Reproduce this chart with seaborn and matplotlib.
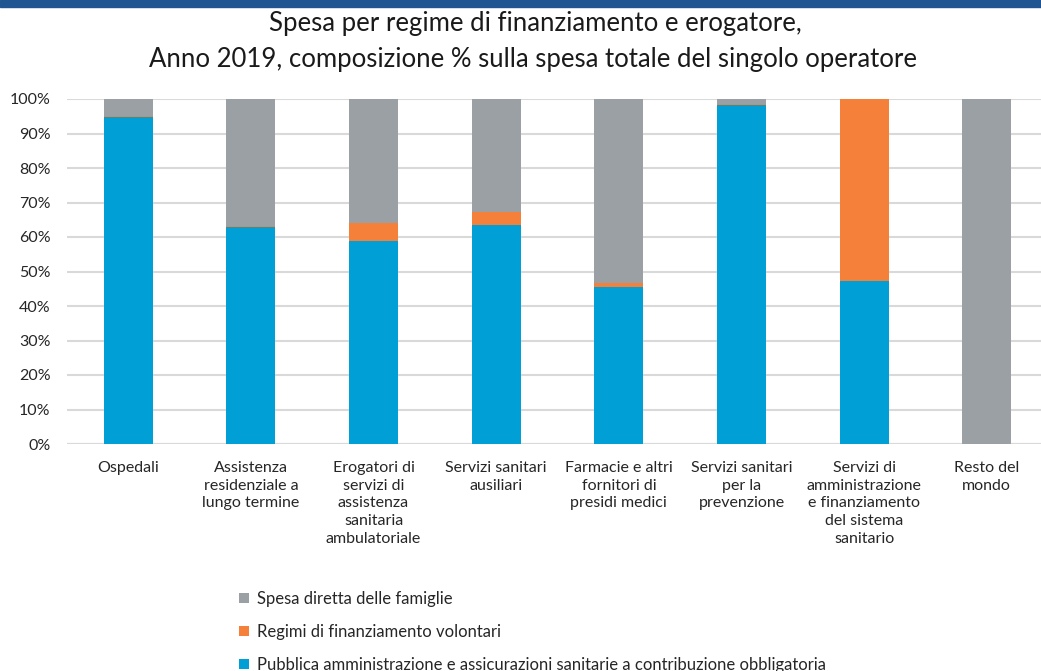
import numpy as np
import pandas as pd
import seaborn as sns
import matplotlib.pyplot as plt
from matplotlib.patches import Rectangle
from matplotlib.ticker import PercentFormatter

# dati (composizione % per erogatore)
erogatori = ["Ospedali",
             "Assistenza\nresidenziale a\nlungo termine",
             "Erogatori di\nservizi di\nassistenza\nsanitaria\nambulatoriale",
             "Servizi sanitari\nausiliari",
             "Farmacie e altri\nfornitori di\npresidi medici",
             "Servizi sanitari\nper la\nprevenzione",
             "Servizi di\namministrazione\ne finanziamento\ndel sistema\nsanitario",
             "Resto del\nmondo"]
pubblica = [94.7, 63.0, 58.7, 63.5, 45.6, 98.3, 47.2, 0.0]
volontari = [0.3, 0.3, 5.4, 3.8, 1.2, 0.3, 52.8, 0.0]
famiglie = [5.0, 36.7, 35.9, 32.7, 53.2, 1.4, 0.0, 100.0]

serie = ["Spesa diretta delle famiglie",
         "Regimi di finanziamento volontari",
         "Pubblica amministrazione e assicurazioni sanitarie a contribuzione obbligatoria"]
colori = ["#9ba0a5", "#f4803a", "#009fd6"]

df = pd.DataFrame({"erogatore": erogatori, "pubblica": pubblica,
                   "volontari": volontari, "famiglie": famiglie})
df["c1"] = df["pubblica"]
df["c2"] = df["pubblica"] + df["volontari"]
df["c3"] = df["c2"] + df["famiglie"]

sns.set_style("white")
plt.rcParams['font.family'] = ['Lato', 'DejaVu Sans']

fig = plt.figure(figsize=(10.41, 6.71), dpi=100)
ax = fig.add_axes([67/1041, 1-444/671, (1048-67)/1041, 345/671])

#barre impilate: prima il totale, poi sopra le somme parziali
sns.barplot(data=df, x="erogatore", y="c3", color=colori[0], width=0.4,
            saturation=1, ax=ax, label=serie[0], zorder=2, linewidth=0)
sns.barplot(data=df, x="erogatore", y="c2", color=colori[1], width=0.4,
            saturation=1, ax=ax, label=serie[1], zorder=2, linewidth=0)
sns.barplot(data=df, x="erogatore", y="c1", color=colori[2], width=0.4,
            saturation=1, ax=ax, label=serie[2], zorder=2, linewidth=0)

ax.set_ylim(0, 100)
ax.set_yticks(np.arange(0, 101, 10))
ax.yaxis.set_major_formatter(PercentFormatter(decimals=0))
ax.grid(axis="y", color="#d9d9d9", linewidth=1.5, zorder=0)
ax.set_axisbelow(True)
for s in ["top", "right", "left", "bottom"]:
    ax.spines[s].set_visible(False)
ax.axhline(0, color="#d9d9d9", linewidth=1.5, zorder=1)
ax.set_xlabel("")
ax.set_ylabel("")
ax.tick_params(axis="both", length=0, labelsize=11.5, colors="#262626")
ax.tick_params(axis="x", pad=12)
ax.tick_params(axis="y", pad=12)
for t in ax.get_xticklabels():
    t.set_linespacing(1.35)

h, l = ax.get_legend_handles_labels()
ax.legend(h, l, loc="upper left", bbox_to_anchor=(224/1041, 1-576/671),
          bbox_transform=fig.transFigure, frameon=False, fontsize=12,
          handlelength=0.6, handleheight=0.6, handletextpad=0.5,
          labelspacing=1.02, labelcolor="#262626")

# banda in alto e titolo
fig.patches.append(Rectangle((0, 1-7/671), 1, 7/671, transform=fig.transFigure,
                             color="#1f5590", zorder=5))
fig.text(535/1041, 1-24/671, "Spesa per regime di finanziamento e erogatore,",
         ha="center", va="center", fontsize=18.5, color="#1a1a1a")
fig.text(533/1041, 1-59/671,
         "Anno 2019, composizione % sulla spesa totale del singolo operatore",
         ha="center", va="center", fontsize=18.5, color="#1a1a1a")

fig.savefig("out.png", dpi=100)
